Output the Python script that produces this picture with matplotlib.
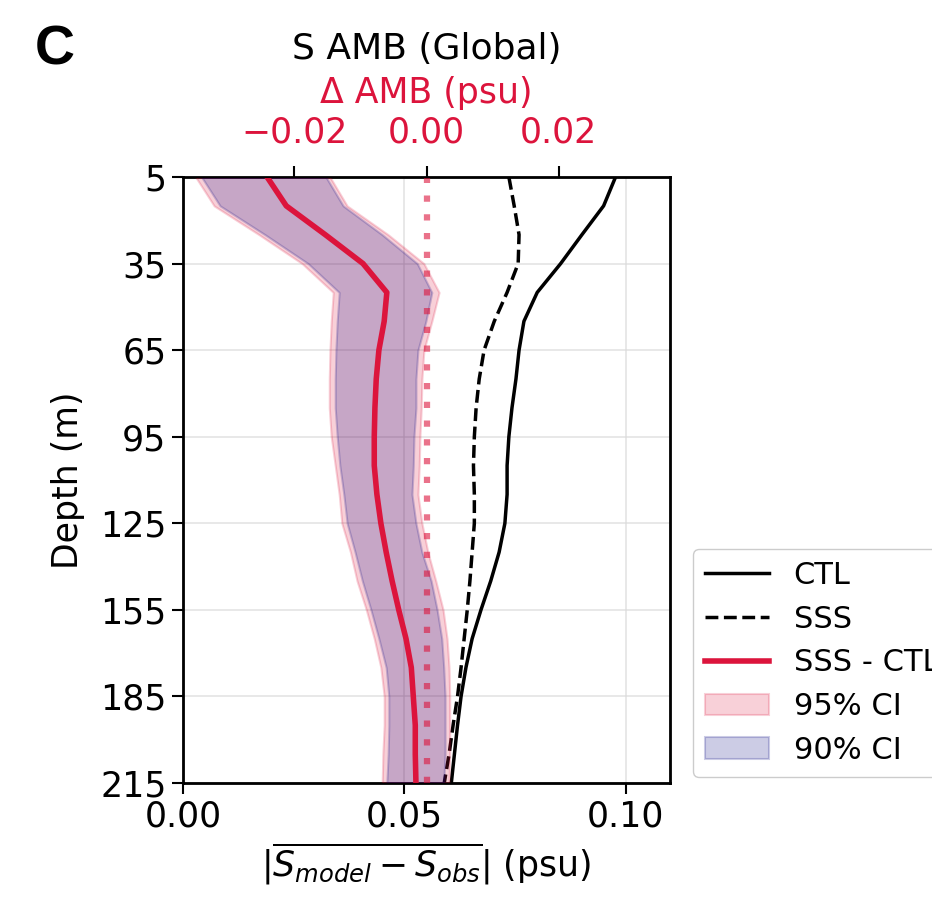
import matplotlib
matplotlib.use("Agg")
import matplotlib.pyplot as plt
import numpy as np

# depth levels (m)
depth = [5, 15, 25, 35, 45, 55, 65, 75, 85, 95, 105,
         115, 125, 135, 145, 155, 165, 175, 185, 195, 205, 215]

# |mean(S_model - S_obs)| (psu)
ctl = [0.0977, 0.0950, 0.0901, 0.0853, 0.0800, 0.0770, 0.0759, 0.0752, 0.0743, 0.0736, 0.0732,
       0.0732, 0.0727, 0.0714, 0.0695, 0.0673, 0.0653, 0.0639, 0.0628, 0.0620, 0.0613, 0.0606]
sss = [0.0736, 0.0748, 0.0759, 0.0757, 0.0732, 0.0703, 0.0680, 0.0669, 0.0662, 0.0658, 0.0656,
       0.0658, 0.0658, 0.0653, 0.0648, 0.0642, 0.0635, 0.0628, 0.0620, 0.0610, 0.0601, 0.0590]

# delta AMB (SSS - CTL) and confidence intervals (psu)
diff = [-0.0241, -0.0212, -0.0153, -0.0096, -0.0060, -0.0064, -0.0072, -0.0076, -0.0078, -0.0079, -0.0079,
        -0.0075, -0.0069, -0.0061, -0.0052, -0.0042, -0.0031, -0.0023, -0.0020, -0.0017, -0.0017, -0.0016]
ci95_lo = [-0.0349, -0.0321, -0.0253, -0.0188, -0.0141, -0.0144, -0.0146, -0.0147, -0.0147, -0.0144, -0.0138,
           -0.0132, -0.0128, -0.0115, -0.0105, -0.0091, -0.0079, -0.0069, -0.0064, -0.0064, -0.0066, -0.0067]
ci95_hi = [-0.0146, -0.0120, -0.0058, -0.0004, 0.0019, 0.0008, -0.0004, -0.0007, -0.0008, -0.0010, -0.0011,
           -0.0013, -0.0007, 0.0002, 0.0014, 0.0025, 0.0031, 0.0034, 0.0035, 0.0035, 0.0035, 0.0034]
ci90_lo = [-0.0340, -0.0312, -0.0244, -0.0179, -0.0132, -0.0135, -0.0137, -0.0138, -0.0138, -0.0135, -0.0131,
           -0.0125, -0.0120, -0.0108, -0.0097, -0.0084, -0.0072, -0.0061, -0.0057, -0.0057, -0.0058, -0.0060]
ci90_hi = [-0.0152, -0.0126, -0.0067, -0.0014, 0.0008, -0.0001, -0.0013, -0.0016, -0.0016, -0.0019, -0.0020,
           -0.0022, -0.0016, -0.0007, 0.0007, 0.0016, 0.0023, 0.0026, 0.0028, 0.0028, 0.0028, 0.0026]

yticks = [5, 35, 65, 95, 125, 155, 185, 215]

fs = 25
plt.rcParams["font.family"] = "DejaVu Sans"
plt.rcParams["font.size"] = fs

fig = plt.figure(figsize=(9.32, 9.11), dpi=100)
ax = fig.add_axes([0.1964, 0.1405, 0.5225, 0.6652])

l1, = ax.plot(ctl, depth, color="k", lw=2.5, label="CTL")
l2, = ax.plot(sss, depth, color="k", lw=2.5, ls="--", label="SSS")
ax.set_xlim(0, 0.11)
ax.set_ylim(215, 5)
ax.set_yticks(yticks)
ax.set_xticks([0, 0.05, 0.10])
ax.set_xticklabels(["0.00", "0.05", "0.10"])
ax.grid(True, color="0.85", lw=1.2, alpha=0.7)
ax.tick_params(length=8, width=1.5, labelsize=fs, pad=4)
for s in ax.spines.values():
    s.set_linewidth(2)
ax.set_ylabel("Depth (m)", fontsize=fs, labelpad=11)
ax.set_xlabel(r"$|\overline{S_{model}-S_{obs}}|$ (psu)", fontsize=fs, labelpad=5)

ax2 = ax.twiny()
f95 = ax2.fill_betweenx(depth, ci95_lo, ci95_hi, color="crimson", alpha=0.2, lw=1.5, label="95% CI")
f90 = ax2.fill_betweenx(depth, ci90_lo, ci90_hi, color="navy", alpha=0.2, lw=1.5, label="90% CI")
l3, = ax2.plot(diff, depth, color="crimson", lw=4, label="SSS - CTL")
ax2.axvline(0, color="crimson", alpha=0.6, lw=4.5, ls=(0, (1, 2)))
ax2.set_xlim(-0.0368, 0.0368)
ax2.set_xticks([-0.02, 0, 0.02])
ax2.set_xticklabels(["\u22120.02", "0.00", "0.02"])
ax2.tick_params(length=8, width=1.5, labelsize=fs, labelcolor="crimson", pad=12)
ax2.set_xlabel("\u0394 AMB (psu)", color="crimson", fontsize=fs, labelpad=9)
ax2.set_title("S AMB (Global)", fontsize=26, pad=12)

ax2.legend([l1, l2, l3, f95, f90], ["CTL", "SSS", "SSS - CTL", "95% CI", "90% CI"],
           loc="lower left", bbox_to_anchor=(1.047, 0.01), borderaxespad=0, fontsize=22,
           handlelength=2.1, borderpad=0.4, labelspacing=0.48, framealpha=1)

fig.text(0.0375, 0.9287, "C", fontsize=40, fontweight="bold", family="Liberation Sans",
         va="baseline")

fig.savefig("out.png", dpi=100)
